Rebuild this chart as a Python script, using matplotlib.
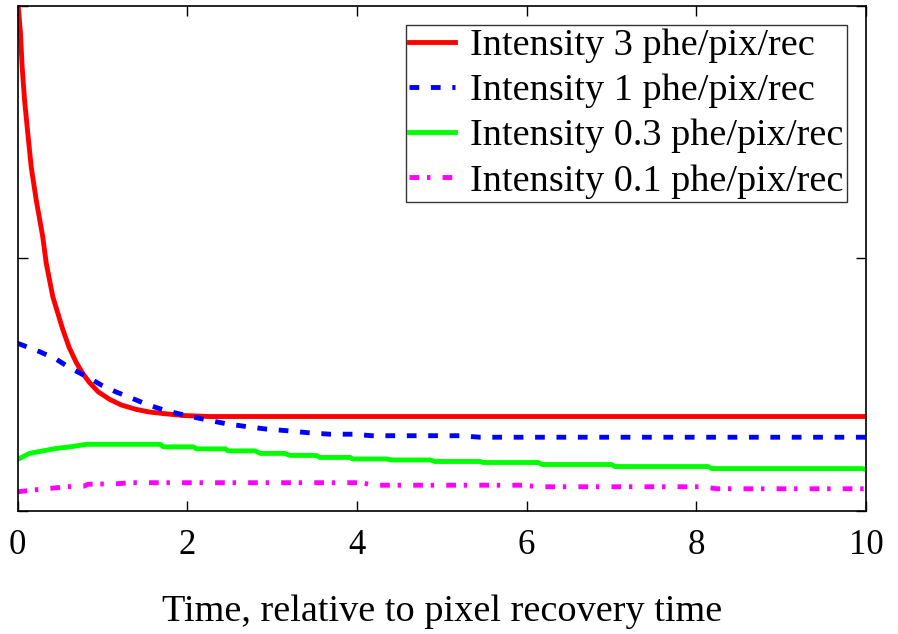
import matplotlib.pyplot as plt

# time axis (units of pixel recovery time) and curves
t_red = [0.0, 0.01, 0.035, 0.055, 0.083, 0.121, 0.162, 0.221, 0.298, 0.338, 0.416,
         0.534, 0.61, 0.692, 0.77, 0.849, 0.95, 1.085, 1.22, 1.40, 1.55, 1.71, 1.95,
         2.26, 4.0, 6.0, 8.0, 10.0]
i_red = [1.0, 0.996, 0.945, 0.878, 0.813, 0.748, 0.680, 0.615, 0.542, 0.491, 0.424,
         0.359, 0.323, 0.294, 0.272, 0.254, 0.236, 0.221, 0.210, 0.201, 0.196, 0.193, 0.189,
         0.187, 0.187, 0.187, 0.187, 0.187]

t_blue = [0.0, 0.265, 0.46, 0.62, 0.815, 0.99, 1.17, 1.35, 1.54, 1.76, 1.99, 2.21,
          2.45, 2.70, 2.94, 3.17, 3.42, 3.68, 3.95, 4.17, 5.21, 5.45, 10.0]
i_blue = [0.332, 0.315, 0.300, 0.283, 0.266, 0.249, 0.235, 0.223, 0.210, 0.198, 0.189, 0.181,
          0.173, 0.167, 0.162, 0.159, 0.155, 0.152, 0.152, 0.149, 0.149, 0.146, 0.146]

t_green = [0.0, 0.14, 0.30, 0.46, 0.62, 0.815, 1.68, 1.72, 2.07, 2.11, 2.45, 2.48, 2.80,
           2.86, 3.15, 3.21, 3.52, 3.56, 3.92, 3.95, 4.35, 4.41, 4.86, 4.92, 5.45, 5.49,
           6.14, 6.18, 7.0, 7.04, 8.14, 8.18, 9.95, 10.0]
i_green = [0.102, 0.114, 0.119, 0.124, 0.127, 0.132, 0.132, 0.127, 0.127, 0.123, 0.123, 0.119, 0.119,
           0.114, 0.114, 0.110, 0.110, 0.106, 0.106, 0.103, 0.103, 0.101, 0.101, 0.098, 0.098, 0.096,
           0.096, 0.092, 0.092, 0.088, 0.088, 0.084, 0.084, 0.082]

t_mag = [0.0, 0.21, 0.40, 0.58, 0.78, 0.83, 1.17, 1.35, 4.04, 4.21, 5.96, 6.14, 8.08, 8.24, 10.0]
i_mag = [0.038, 0.042, 0.045, 0.048, 0.049, 0.053, 0.054, 0.056, 0.056, 0.051, 0.051, 0.048,
         0.048, 0.044, 0.044]

labels = ['Intensity 3 phe/pix/rec', 'Intensity 1 phe/pix/rec',
          'Intensity 0.3 phe/pix/rec', 'Intensity 0.1 phe/pix/rec']

plt.rcParams['font.family'] = ['Liberation Serif', 'DejaVu Serif']

fig = plt.figure(figsize=(8.98, 6.34), dpi=100)
ax = fig.add_axes([0.0195, 0.194, 0.945, 0.797])

ax.plot(t_red, i_red, color='#ff0000', lw=3.5, label=labels[0])
ax.plot(t_blue, i_blue, color='#0000ff', lw=3.5, dashes=(2.0, 2.4), label=labels[1])
ax.plot(t_green, i_green, color='#00ff00', lw=3.5, label=labels[2])
ax.plot(t_mag, i_mag, color='#ff00ff', lw=3.5, dashes=(2.0, 1.6, 0.7, 2.5), label=labels[3])

ax.set_xlim(0, 10)
ax.set_ylim(0, 1)
ax.set_xticks([0, 2, 4, 6, 8, 10])
ax.set_yticks([0, 0.5, 1])
ax.set_yticklabels([])
ax.tick_params(direction='in', top=True, right=True, length=7, width=1, labelsize=25, pad=13)
for s in ax.spines.values():
    s.set_linewidth(1.2)

ax.set_xlabel('Time, relative to pixel recovery time', fontsize=27.5, labelpad=23)

leg = ax.legend(loc='upper right', fontsize=27.5, frameon=True, fancybox=False,
                edgecolor='black', handlelength=1.18, handletextpad=0.4,
                borderpad=0.1, labelspacing=0.27, borderaxespad=0.5)
leg.get_frame().set_linewidth(1.0)

fig.savefig('out.png', dpi=100)
